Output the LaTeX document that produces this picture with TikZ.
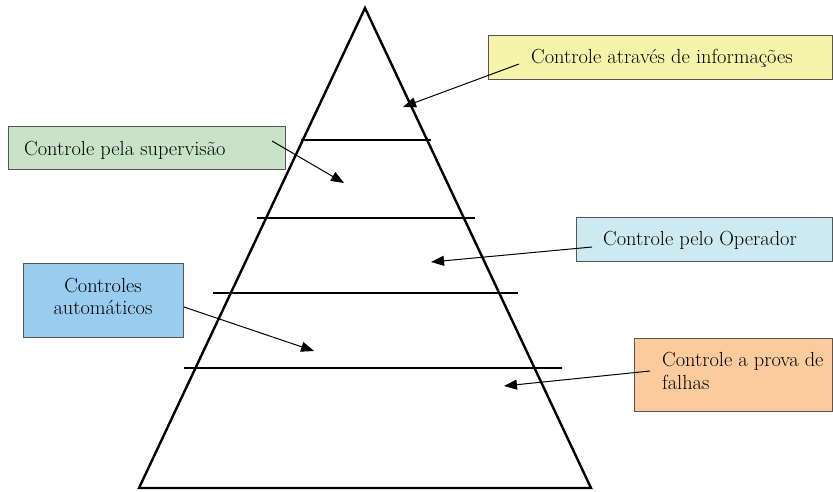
\documentclass[tikz,border=0pt]{standalone}
\usetikzlibrary{arrows.meta}
\definecolor{cyellow}{RGB}{246,244,170}
\definecolor{cgreen}{RGB}{201,227,201}
\definecolor{cblue}{RGB}{153,204,238}
\definecolor{clight}{RGB}{205,234,241}
\definecolor{corange}{RGB}{251,203,158}
\definecolor{cborder}{RGB}{85,85,85}
\begin{document}
\begin{tikzpicture}[x=1pt,y=-1pt,
  txt/.style={font=\rmfamily\fontsize{20.4}{23}\selectfont, inner sep=0pt},
  infobox/.style={draw=cborder, line width=1.3pt, rectangle, anchor=north west, inner sep=0pt},
  pyr/.style={line width=2.4pt},
  callout/.style={line width=1pt, -{Triangle[length=13pt,width=10pt]}}]
\useasboundingbox (0,0) rectangle (833,491);

% pyramid
\coordinate (apex) at (365,8);
\coordinate (bl) at (139,488);
\coordinate (br) at (591,488);
\draw[pyr, line join=miter] (apex) -- (bl) -- (br) -- cycle;
\draw[pyr] (301,140) -- (431,140);
\draw[pyr] (257,218) -- (475,218);
\draw[pyr] (213,293) -- (518,293);
\draw[pyr] (184,368) -- (562,368);

% boxes
\node[infobox, fill=cyellow, minimum width=344, minimum height=44] (yellowbox) at (488,35) {};
\node[txt, anchor=base west] (yellowtxt) at (531,63) {Controle através de informações};

\node[infobox, fill=cgreen, minimum width=277, minimum height=43] (greenbox) at (8,126) {};
\node[txt, anchor=base west] (greentxt) at (24,155) {Controle pela supervisão};

\node[infobox, fill=cblue, minimum width=160, minimum height=74] (bluebox) at (23,263) {};
\node[txt, anchor=base] (bluetxta) at (103,292) {Controles};
\node[txt, anchor=base] (bluetxtb) at (103,314) {automáticos};

\node[infobox, fill=clight, minimum width=256, minimum height=44] (lightbox) at (576,217) {};
\node[txt, anchor=base west] (lighttxt) at (603,245) {Controle pelo Operador};

\node[infobox, fill=corange, minimum width=198, minimum height=73] (orangebox) at (634,338) {};
\node[txt, anchor=base west] (orangetxta) at (662,366) {Controle a prova de};
\node[txt, anchor=base west] (orangetxtb) at (662,389) {falhas};

% arrows
\coordinate (ys) at (519,64);   \coordinate (yt) at (403,107);
\coordinate (gs) at (272,141);  \coordinate (gt) at (344,183);
\coordinate (bs) at (184,307);  \coordinate (bt) at (314,351);
\coordinate (ls) at (592,247);  \coordinate (lt) at (431,262);
\coordinate (os) at (650,371);  \coordinate (ot) at (504,386);
\draw[callout] (ys) -- (yt);
\draw[callout] (gs) -- (gt);
\draw[callout] (bs) -- (bt);
\draw[callout] (ls) -- (lt);
\draw[callout] (os) -- (ot);
\end{tikzpicture}
\end{document}
